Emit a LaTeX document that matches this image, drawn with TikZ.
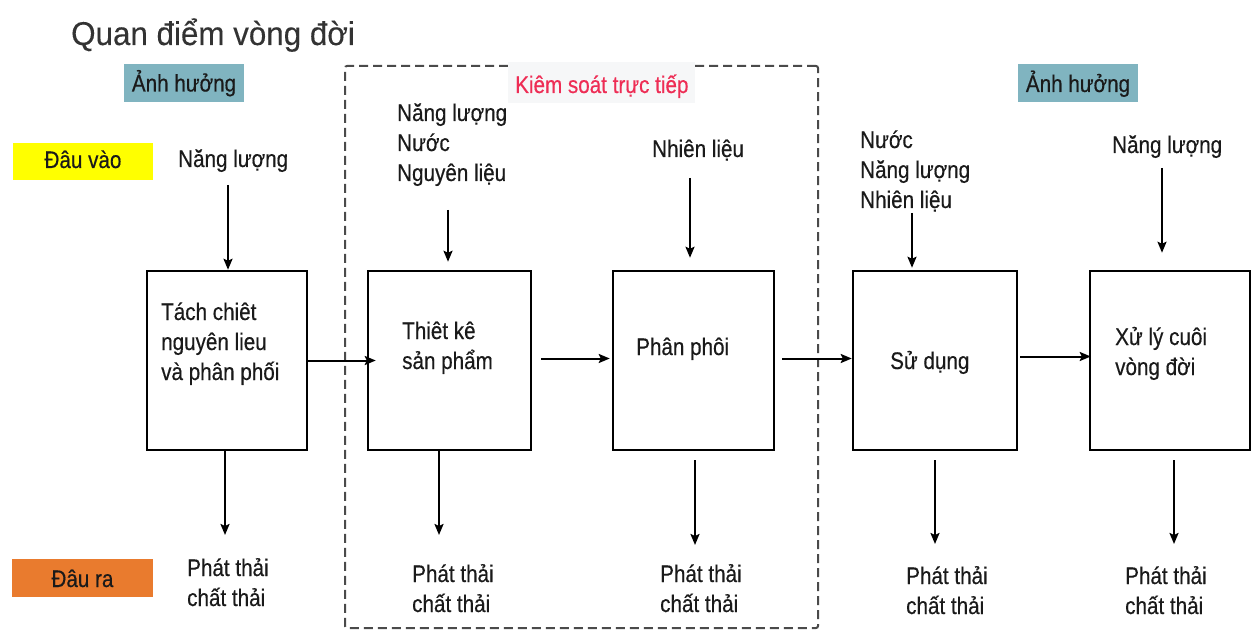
\documentclass[tikz,border=0pt]{standalone}
\usepackage{fontspec}
\setmainfont{Liberation Sans}[FakeStretch=0.86,FakeBold=0.4]
\newfontfamily\titlefont{Liberation Sans}[FakeStretch=0.95,FakeBold=0.2]
\usetikzlibrary{arrows.meta}
\definecolor{inkc}{HTML}{1A1A1A}
\definecolor{titlec}{HTML}{333333}
\definecolor{tealc}{HTML}{80B4C0}
\definecolor{yellowc}{HTML}{FFFF00}
\definecolor{orangec}{HTML}{E97B2E}
\definecolor{redc}{HTML}{EE2D55}
\definecolor{framec}{HTML}{4A4A4A}
\definecolor{tagbg}{HTML}{F6F7F8}
% stacked lines whose baseline is that of the first line
\newcommand\mlines[1]{\begin{tabular}[t]{@{}l@{}}#1\end{tabular}}
\tikzset{
  txt/.style={anchor=base west, inner sep=0pt, text=inkc,
    font=\fontsize{24}{30}\selectfont},
  stepbox/.style={draw=black, line width=2.5pt, fill=white, inner sep=0pt,
    minimum height=179pt},
  tag/.style={inner sep=0pt, minimum height=38pt, text height=17pt, text depth=0pt,
    text=inkc, font=\fontsize{24}{30}\selectfont},
  arr/.style={draw=black, line width=2pt,
    -{Stealth[length=11pt,width=9pt,inset=2pt]}},
  ctlframe/.style={draw=framec, line width=2pt, dash pattern=on 9pt off 5pt,
    rounded corners=2pt, inner sep=0pt},
}
\begin{document}
\begin{tikzpicture}[x=1pt,y=-1pt]
\useasboundingbox (0,0) rectangle (1253,631);

% title
\node[anchor=base west, inner sep=0pt, text=titlec,
  font=\titlefont\fontsize{33}{38}\selectfont] (title) at (71,45) {Quan điểm vòng đời};

% region under direct control
\node[ctlframe, minimum width=473pt, minimum height=562pt] (ctl) at (581.5,347) {};
\node[anchor=base west, inner xsep=7pt, inner ysep=0pt, text height=31pt, text depth=10pt,
  fill=tagbg, text=redc, font=\fontsize{24}{30}\selectfont] (ctltag) at (508,93)
  {Kiêm soát trực tiếp};

% category tags
\node[tag, fill=tealc, minimum width=120pt] (inf1) at (184,83) {Ảnh hưởng};
\node[tag, fill=tealc, minimum width=120pt] (inf2) at (1078,83.5) {Ảnh hưởng};
\node[tag, fill=yellowc, minimum width=140pt, minimum height=37pt, text height=13pt] (tin) at (83,161.5) {Đâu vào};
\node[tag, fill=orangec, minimum width=141pt, text height=18pt] (tout) at (82.5,578) {Đâu ra};

% life-cycle stages
\node[stepbox, minimum width=160pt] (b1) at (227,360.5) {};
\node[stepbox, minimum width=163pt] (b2) at (449.5,360.5) {};
\node[stepbox, minimum width=161pt] (b3) at (693.5,360.5) {};
\node[stepbox, minimum width=164pt] (b4) at (935,360.5) {};
\node[stepbox, minimum width=160pt] (b5) at (1170,360.5) {};

\node[txt] (t1) at (161,320) {\mlines{Tách chiêt\\nguyên lieu\\và phân phối}};
\node[txt] (t2) at (402,339) {\mlines{Thiêt kê\\sản phẩm}};
\node[txt] (t3) at (636,355) {Phân phôi};
\node[txt] (t4) at (890,369) {Sử dụng};
\node[txt] (t5) at (1115,345) {\mlines{Xử lý cuôi\\vòng đời}};

% inputs
\node[txt] (in1) at (178,167) {Năng lượng};
\node[txt] (in2) at (397,121) {\mlines{Năng lượng\\Nước\\Nguyên liệu}};
\node[txt] (in3) at (652,157) {Nhiên liệu};
\node[txt] (in4) at (860,148) {\mlines{Nước\\Năng lượng\\Nhiên liệu}};
\node[txt] (in5) at (1112,153) {Năng lượng};

% outputs
\node[txt] (out1) at (187,576) {\mlines{Phát thải\\chất thải}};
\node[txt] (out2) at (412,582) {\mlines{Phát thải\\chất thải}};
\node[txt] (out3) at (660,582) {\mlines{Phát thải\\chất thải}};
\node[txt] (out4) at (906,584) {\mlines{Phát thải\\chất thải}};
\node[txt] (out5) at (1125,584) {\mlines{Phát thải\\chất thải}};

% input arrow starts
\coordinate (a1) at (228,185);
\coordinate (a2) at (448,210);
\coordinate (a3) at (690,178);
\coordinate (a4) at (912,213);
\coordinate (a5) at (1162,168);
% output arrow ends
\coordinate (e1) at (225,535);
\coordinate (e2) at (439,535);
\coordinate (e3) at (695,545);
\coordinate (e4) at (935,544);
\coordinate (e5) at (1174,544);

\draw[arr] (a1) -- (a1 |- b1.north);
\draw[arr, shorten >=8pt] (a2) -- (a2 |- b2.north);
\draw[arr, shorten >=12pt] (a3) -- (a3 |- b3.north);
\draw[arr, shorten >=2pt] (a4) -- (a4 |- b4.north);
\draw[arr, shorten >=17pt] (a5) -- (a5 |- b5.north);

\draw[arr] (b1.south -| e1) -- (e1);
\draw[arr] (b2.south -| e2) -- (e2);
\draw[arr, shorten <=9pt] (b3.south -| e3) -- (e3);
\draw[arr, shorten <=9pt] (b4.south -| e4) -- (e4);
\draw[arr, shorten <=9pt] (b5.south -| e5) -- (e5);

% flow between stages
\draw[arr, shorten >=-9pt] (b1.east) -- (b2.west);
\draw[arr, shorten <=9pt, shorten >=2pt] ([yshift=2pt]b2.east) -- ([yshift=2pt]b3.west);
\draw[arr, shorten <=7pt] ([yshift=2pt]b3.east) -- ([yshift=2pt]b4.west);
\draw[arr, shorten <=2pt, shorten >=-2pt] ([yshift=4pt]b4.east) -- ([yshift=4pt]b5.west);
\end{tikzpicture}
\end{document}
